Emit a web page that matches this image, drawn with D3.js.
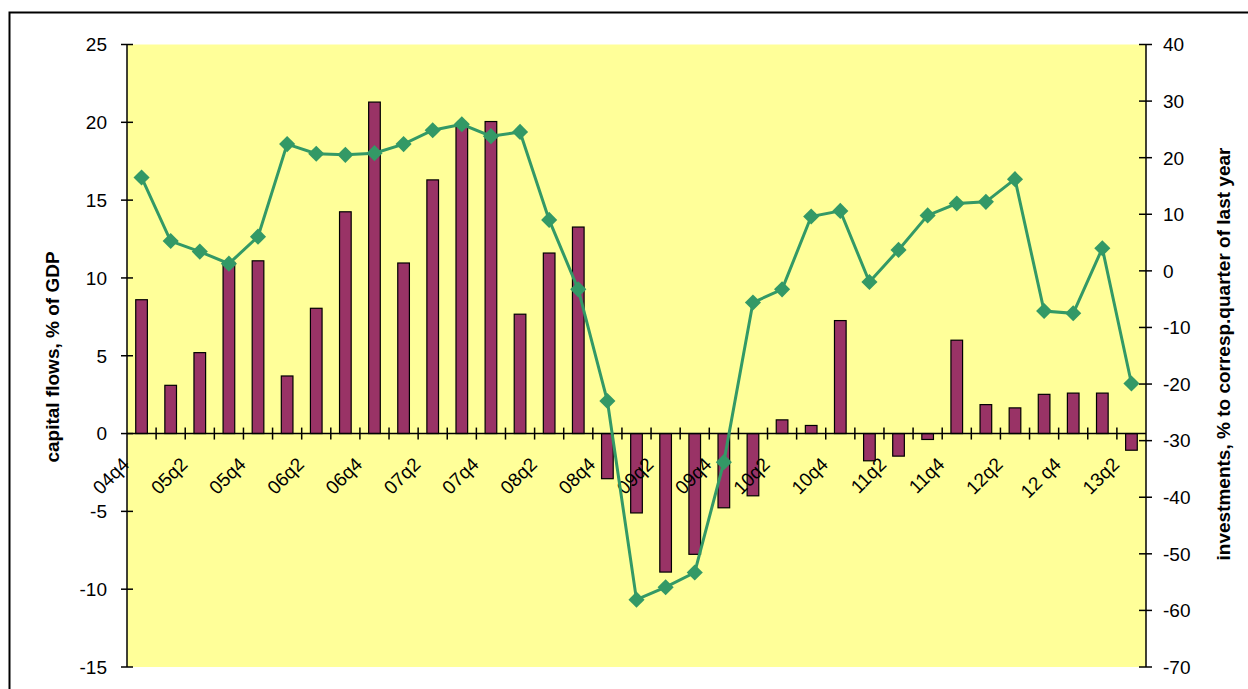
<!DOCTYPE html>
<html>
<head>
    <meta charset="utf-8">
    <style>
        body{
            margin: 0;
            background: #fff;
        }
        text{
            font-family: "Liberation Sans", Arial, sans-serif;
            fill: #000;
        }
        .title{
            font-weight: bold;
            font-size: 19px;
        }
    </style>
</head>

<body>
    <svg width="1248" height="689"></svg>
</body>

<script src="https://cdn.jsdelivr.net/npm/d3@7"></script>

<script>
    // quarters, 04q4 .. 13q2
    let quarters = ['04q4','05q1','05q2','05q3','05q4','06q1','06q2','06q3','06q4',
        '07q1','07q2','07q3','07q4','08q1','08q2','08q3','08q4',
        '09q1','09q2','09q3','09q4','10q1','10q2','10q3','10q4',
        '11q1','11q2','11q3','11q4','12q1','12q2','12q3','12 q4','13q1','13q2']

    // bars, left axis
    let capitalFlows = [8.6, 3.1, 5.2, 11.0, 11.1, 3.7, 8.05, 14.25, 21.3,
        10.96, 16.3, 19.9, 20.05, 7.67, 11.6, 13.27, -2.9,
        -5.1, -8.9, -7.76, -4.77, -4.0, 0.88, 0.52, 7.26,
        -1.75, -1.45, -0.38, 6.0, 1.86, 1.65, 2.52, 2.6, 2.6, -1.07]

    // line, right axis
    let investments = [16.5, 5.27, 3.4, 1.27, 6.05, 22.4, 20.7, 20.5, 20.8,
        22.4, 24.85, 25.9, 23.8, 24.55, 9.0, -3.27, -23.0,
        -58.1, -55.9, -53.3, -33.8, -5.6, -3.27, 9.6, 10.6,
        -1.97, 3.7, 9.8, 11.9, 12.2, 16.2, -7.1, -7.5, 4.0, -19.9]

    let leftTicks = [-15, -10, -5, 0, 5, 10, 15, 20, 25]
    let rightTicks = [-70, -60, -50, -40, -30, -20, -10, 0, 10, 20, 30, 40]

    let pL = 127, pR = 1146, pT = 44.5, pB = 667

    let svg = d3.select("svg")

    // outer frame (cut off at right and bottom like the original)
    svg.append("rect")
        .attr("x", 9.5).attr("y", 12.5)
        .attr("width", 1300).attr("height", 800)
        .style("fill", "none")
        .style("stroke", "#000")
        .style("stroke-width", 2)

    let x = d3.scaleBand()
        .domain(quarters)
        .range([pL, pR])
        .padding(0)

    let yL = d3.scaleLinear().domain([-15, 25]).range([pB, pT])
    let yR = d3.scaleLinear().domain([-70, 40]).range([pB, pT])

    svg.append("rect")
        .attr("x", pL).attr("y", pT)
        .attr("width", pR - pL).attr("height", pB - pT)
        .style("fill", "#ffff99")

    let barW = x.bandwidth() / 2.5

    svg.append("g")
        .selectAll("rect")
        .data(capitalFlows)
        .join("rect")
        .attr("x", (d, i) => x(quarters[i]) + x.bandwidth() / 2 - barW / 2)
        .attr("y", d => Math.min(yL(d), yL(0)))
        .attr("width", barW)
        .attr("height", d => Math.abs(yL(d) - yL(0)))
        .style("fill", "#993366")
        .style("stroke", "#000")
        .style("stroke-width", 1.2)

    // left axis
    let gl = svg.append("g")
    gl.append("line")
        .attr("x1", pL).attr("x2", pL)
        .attr("y1", pT).attr("y2", pB)
        .style("stroke", "#000").style("stroke-width", 1.5)
    gl.selectAll(".t")
        .data(leftTicks)
        .join("line")
        .attr("x1", pL - 6).attr("x2", pL + 6)
        .attr("y1", d => yL(d)).attr("y2", d => yL(d))
        .style("stroke", "#000").style("stroke-width", 1.5)
    gl.selectAll("text")
        .data(leftTicks)
        .join("text")
        .attr("x", 107)
        .attr("y", d => yL(d))
        .attr("dy", "0.36em")
        .attr("text-anchor", "end")
        .style("font-size", "19px")
        .text(d => d)

    // right axis
    let gr = svg.append("g")
    gr.append("line")
        .attr("x1", pR).attr("x2", pR)
        .attr("y1", pT).attr("y2", pB)
        .style("stroke", "#000").style("stroke-width", 1.5)
    gr.selectAll(".t")
        .data(rightTicks)
        .join("line")
        .attr("x1", pR - 7).attr("x2", pR + 6)
        .attr("y1", d => yR(d)).attr("y2", d => yR(d))
        .style("stroke", "#000").style("stroke-width", 1.5)
    gr.selectAll("text")
        .data(rightTicks)
        .join("text")
        .attr("x", 1163)
        .attr("y", d => yR(d))
        .attr("dy", "0.36em")
        .attr("text-anchor", "start")
        .style("font-size", "19px")
        .text(d => d)

    // category axis at zero
    let gx = svg.append("g")
    gx.append("line")
        .attr("x1", pL).attr("x2", pR)
        .attr("y1", yL(0)).attr("y2", yL(0))
        .style("stroke", "#000").style("stroke-width", 1.5)
    gx.selectAll(".t")
        .data(quarters.slice(1))
        .join("line")
        .attr("x1", d => x(d)).attr("x2", d => x(d))
        .attr("y1", yL(0) - 6).attr("y2", yL(0) + 6)
        .style("stroke", "#000").style("stroke-width", 1.5)
    gx.selectAll("text")
        .data(quarters.filter((d, i) => i % 2 == 0))
        .join("text")
        .attr("transform", d => {
            let cx = x(d) + x.bandwidth() / 2
            return "translate(" + (cx - 11) + "," + (yL(0) + 32) + ") rotate(-45)"
        })
        .attr("text-anchor", "end")
        .style("font-size", "19px")
        .text(d => d)

    // investments line
    let line = d3.line()
        .x((d, i) => x(quarters[i]) + x.bandwidth() / 2)
        .y(d => yR(d))

    svg.append("path")
        .datum(investments)
        .attr("d", line)
        .style("fill", "none")
        .style("stroke", "#339966")
        .style("stroke-width", 3)

    svg.append("g")
        .selectAll("path")
        .data(investments)
        .join("path")
        .attr("d", d3.symbol(d3.symbolSquare, 130))
        .attr("transform", (d, i) => "translate(" + (x(quarters[i]) + x.bandwidth() / 2) + "," + yR(d) + ") rotate(45)")
        .style("fill", "#339966")

    // axis titles
    svg.append("text")
        .attr("class", "title")
        .attr("transform", "translate(59,357) rotate(-90)")
        .attr("text-anchor", "middle")
        .text("capital flows, % of GDP")

    svg.append("text")
        .attr("class", "title")
        .attr("transform", "translate(1230,354) rotate(-90)")
        .attr("text-anchor", "middle")
        .text("investments, % to corresp.quarter of last year")
</script>
</html>
